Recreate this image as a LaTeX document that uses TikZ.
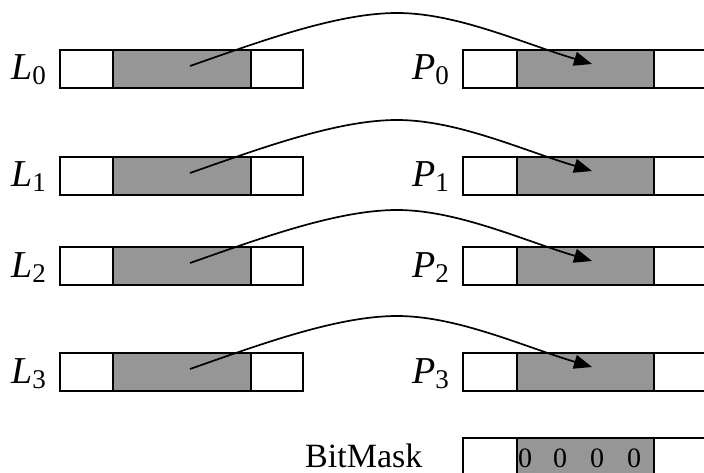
\documentclass[tikz,border=0pt]{standalone}
\usepackage{fontspec}
\setmainfont{Liberation Serif}
\usetikzlibrary{arrows.meta,calc}
\definecolor{cellgray}{RGB}{150,150,150}
\tikzset{
  cell/.style={draw=black,line width=1.8pt,fill=white,minimum height=38pt,inner sep=0pt,outer sep=0pt,anchor=north west},
  graycell/.style={cell,fill=cellgray},
  link/.style={line width=1.7pt,-{Triangle[length=18pt,width=14pt]}},
  lbl/.style={inner sep=0pt,anchor=base west,font=\fontsize{38}{42}\selectfont\itshape},
  digit/.style={inner sep=0pt,anchor=base,font=\fontsize{28}{30}\selectfont},
}
\newcommand{\subdigit}[1]{\raisebox{-5pt}{\fontsize{27}{30}\selectfont\upshape #1}}
\begin{document}
\begin{tikzpicture}[x=1pt,y=-1pt]
  \useasboundingbox (0,0) rectangle (704,473);
  \clip (0,0) rectangle (704,473);
  % rows of boxes
  \foreach \i/\t in {0/50,1/157,2/247,3/353} {
    \node[cell,minimum width=53pt] (la\i) at (60,\t) {};
    \node[graycell,minimum width=138pt] (lg\i) at (113,\t) {};
    \node[cell,minimum width=52pt] (lc\i) at (251,\t) {};
    \node[cell,minimum width=54pt] (ra\i) at (463,\t) {};
    \node[graycell,minimum width=137pt] (rg\i) at (517,\t) {};
    \node[cell,minimum width=52pt] (rc\i) at (654,\t) {};
    \node[lbl] (ln\i) at (11,\t+30) {L\subdigit{\i}};
    \node[lbl] (pn\i) at (412,\t+30) {P\subdigit{\i}};
  }
  % arrows
  \foreach \i in {0,1,2,3} {
    \coordinate (s\i) at ($(lg\i.north west)+(77,16)$);
    \coordinate (c\i) at ($(s\i)+(207,-53)$);
    \coordinate (e\i) at ($(rg\i.north west)+(75,14)$);
    \draw[link] (s\i) .. controls +(70,-24.5) and +(-60,0) .. (c\i)
                      .. controls +(60,0) and +(-70,-21) .. (e\i);
  }
  % bit mask
  \node[inner sep=0pt,anchor=base west,font=\fontsize{34}{38}\selectfont] (bm) at (305,467) {BitMask};
  \node[cell,minimum width=54pt,minimum height=40pt] (ba) at (463,438) {};
  \node[graycell,minimum width=137pt,minimum height=40pt] (bg) at (517,438) {};
  \node[cell,minimum width=52pt,minimum height=40pt] (bc) at (654,438) {};
  \node[digit] (d0) at (525,467) {0};
  \node[digit] (d1) at (560,467) {0};
  \node[digit] (d2) at (597,467) {0};
  \node[digit] (d3) at (634,467) {0};
\end{tikzpicture}
\end{document}
